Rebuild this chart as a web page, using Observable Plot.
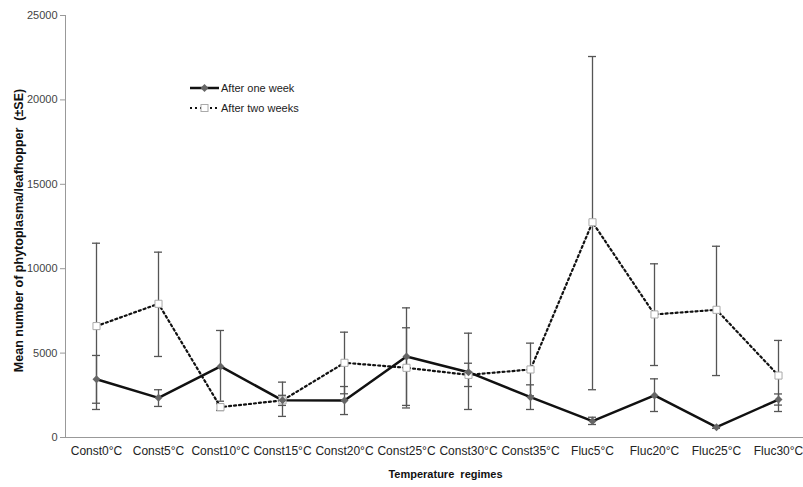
<!DOCTYPE html>
<html>
<head>
<meta charset="utf-8">
<script src="https://cdn.jsdelivr.net/npm/d3@7"></script>
<script src="https://cdn.jsdelivr.net/npm/@observablehq/plot@0.6"></script>
<style>
  html, body { margin: 0; padding: 0; background: #fff; }
  #wrap { position: relative; width: 803px; height: 487px; overflow: hidden; font-family: "Liberation Sans", Arial, sans-serif; }
  #legend { position: absolute; left: 188px; top: 78px; font-size: 11px; color: #222; }
  #legend .row { display: flex; align-items: center; height: 20px; }
  #legend svg { display: block; margin-right: 1px; }
</style>
</head>
<body>
<div id="wrap">
  <div id="chart"></div>
  <div id="legend">
    <div class="row">
      <svg width="32" height="12"><line x1="2" x2="31" y1="6" y2="6" stroke="#111" stroke-width="2.5"/><path d="M16.5,2 L20.5,6 L16.5,10 L12.5,6 Z" fill="#666"/></svg>
      <span>After one week</span>
    </div>
    <div class="row">
      <svg width="32" height="12"><line x1="2" x2="31" y1="6" y2="6" stroke="#111" stroke-width="2.2" stroke-dasharray="2,3"/><rect x="13" y="2.5" width="7" height="7" fill="#fff" stroke="#aaa" stroke-width="1"/></svg>
      <span>After two weeks</span>
    </div>
  </div>
</div>
<script>
const categories = ["Const0°C","Const5°C","Const10°C","Const15°C","Const20°C","Const25°C","Const30°C","Const35°C","Fluc5°C","Fluc20°C","Fluc25°C","Fluc30°C"];

const week1Mean = [3450, 2350, 4210, 2200, 2190, 4800, 3870, 2390, 970, 2490, 610, 2250];
const week1Low  = [2030, 1840, 2150, 1900, 1360, 1900, 3020, 1660, 770, 1540, 540, 1920];
const week1High = [4860, 2830, 6340, 2500, 3020, 7680, 4400, 3120, 1200, 3475, 680, 2580];

const week2Mean = [6600, 7920, 1800, 2200, 4425, 4130, 3710, 4030, 12750, 7290, 7565, 3670];
const week2Low  = [1660, 4800, 1600, 1250, 2590, 1750, 1660, 2470, 2830, 4265, 3670, 1540];
const week2High = [11510, 10980, 2000, 3280, 6240, 6500, 6180, 5590, 22570, 10290, 11330, 5750];

const yTicks = [0, 5000, 10000, 15000, 20000, 25000];
const yTitle = "Mean number of phytoplasma/leafhopper  (±SE)";
const xTitle = "Temperature  regimes";

const w1 = categories.map((c, i) => ({cat: c, mean: week1Mean[i], lo: week1Low[i], hi: week1High[i]}));
const w2 = categories.map((c, i) => ({cat: c, mean: week2Mean[i], lo: week2Low[i], hi: week2High[i]}));
const all = w1.concat(w2);

const errColor = "#555";
const capInset = 27;

const chart = Plot.plot({
  width: 803,
  height: 487,
  marginLeft: 65,
  marginRight: 0,
  marginTop: 15,
  marginBottom: 50,
  style: {fontFamily: "Liberation Sans, Arial, sans-serif", background: "#fff", overflow: "visible"},
  x: {type: "band", domain: categories, range: [65, 809], padding: 0},
  y: {domain: [0, 25000]},
  marks: [
    Plot.ruleY([0], {stroke: "#999", strokeWidth: 1}),
    Plot.frame({anchor: "left", stroke: "#999", strokeWidth: 1}),
    Plot.axisY({ticks: yTicks, tickSize: 5, tickPadding: 3, tickFormat: d => String(d), fontSize: 11, stroke: "#999", fill: "#444", label: null}),
    Plot.axisX({tickSize: 0, tickPadding: 9, fontSize: 12, fill: "#222", label: null}),
    // error bars
    Plot.ruleX(all, {x: "cat", y1: "lo", y2: "hi", stroke: errColor, strokeWidth: 1.3}),
    Plot.tickY(all, {x: "cat", y: "lo", stroke: errColor, strokeWidth: 1.3, insetLeft: capInset, insetRight: capInset}),
    Plot.tickY(all, {x: "cat", y: "hi", stroke: errColor, strokeWidth: 1.3, insetLeft: capInset, insetRight: capInset}),
    // lines
    Plot.line(w2, {x: "cat", y: "mean", stroke: "#111", strokeWidth: 2.2, strokeDasharray: "2,3"}),
    Plot.line(w1, {x: "cat", y: "mean", stroke: "#111", strokeWidth: 2.5}),
    // markers
    Plot.dot(w2, {x: "cat", y: "mean", symbol: "square", r: 4, fill: "#fff", stroke: "#aaa", strokeWidth: 1}),
    Plot.dot(w1, {x: "cat", y: "mean", symbol: "diamond2", r: 3.6, fill: "#666", stroke: "none"}),
    // titles
    Plot.text([yTitle], {frameAnchor: "left", dx: -47, dy: 4, rotate: -90, textAnchor: "middle", fontSize: 12.5, fontWeight: "bold", fill: "#111"}),
    Plot.text([xTitle], {frameAnchor: "bottom", dx: 11, dy: 40, fontSize: 11, fontWeight: "bold", fill: "#111"})
  ]
});
document.getElementById("chart").appendChild(chart);
</script>
</body>
</html>
